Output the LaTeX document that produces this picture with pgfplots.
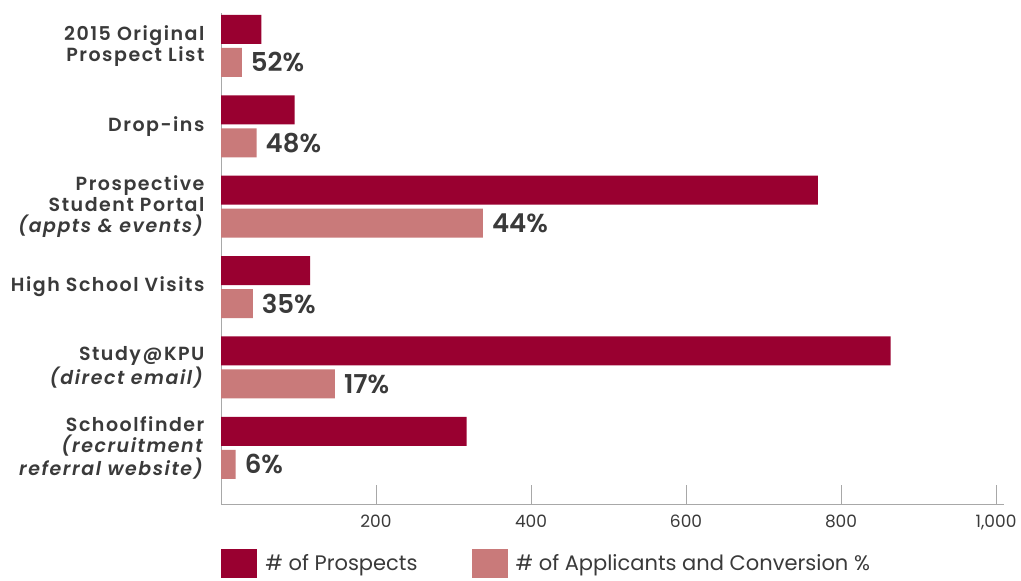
\documentclass[border=0pt]{standalone}
\usepackage{fontspec}
\setmainfont{Poppins}[BoldFont={Poppins SemiBold}, BoldItalicFont={Poppins SemiBold Italic}]
\usepackage{pgfplots}
\pgfplotsset{compat=1.18}
\usepackage{pgfplotstable}

\definecolor{prosp}{HTML}{990030}
\definecolor{appl}{HTML}{C97A7A}
\definecolor{txt}{HTML}{3A3A3A}
\definecolor{axisgray}{HTML}{A8A8A8}

% y: 5 = top group, 0 = bottom group
\pgfplotstableread{
y  pros  appl  pct
5  52    27    52
4  95    46    48
3  770   338   44
2  115   41    35
1  864   147   17
0  317   19    6
}\funnel

\begin{document}
\begin{tikzpicture}
\useasboundingbox (0,0) rectangle (510.5pt,290pt);
\begin{axis}[
    at={(110.5pt,38pt)}, anchor=south west,
    scale only axis,
    width=391.4pt, height=245.5pt,
    xbar, bar width=14.5pt,
    xmin=0, xmax=1010,
    ymin=-0.70, ymax=5.41,
    axis lines=left,
    axis line style={axisgray, thin, -},
    xtick={200,400,600,800,1000},
    xtick align=inside,
    major tick length=9.5pt,
    xtick style={axisgray, thin},
    ytick={0,1,2,3,4,5},
    ytick style={draw=none},
    yticklabels={
        {Schoolfinder\\\textit{(recruitment}\\\textit{referral website)}},
        {Study@KPU\\\textit{(direct email)}},
        {High School Visits},
        {Prospective\\Student Portal\\\textit{(appts \& events)}},
        {Drop-ins},
        {2015 Original\\Prospect List}},
    yticklabel style={align=right, text=txt,
        font=\fontsize{9.5}{10.5}\selectfont\bfseries\addfontfeatures{LetterSpace=8},
        xshift=0pt},
    xticklabel style={text=txt, font=\fontsize{8.5}{10}\selectfont, yshift=-2pt},
    /pgf/number format/.cd, 1000 sep={,}, assume math mode=true,
    /pgfplots/.cd,
    legend columns=2,
    legend style={at={(0,-0.0917)}, anchor=north west, draw=none,
        inner sep=0pt, text=txt,
        font=\fontsize{10.5}{11.5}\selectfont,
        nodes={inner xsep=4pt},
        /tikz/every even column/.append style={column sep=23pt}},
    legend cell align=left,
]
\addplot[fill=prosp, draw=none, bar shift=8.25pt,
    area legend,
    legend image code/.code={\fill[prosp] (0pt,-7.25pt) rectangle (18pt,7.25pt);}]
    table[x=pros, y=y] {\funnel};
\addlegendentry{\# of Prospects}
\addplot[fill=appl, draw=none, bar shift=-8.25pt,
    point meta=explicit,
    nodes near coords={\pgfmathprintnumber{\pgfplotspointmeta}\%},
    nodes near coords align={horizontal},
    every node near coord/.append style={anchor=west, text=txt,
        font=\fontsize{13}{14}\selectfont\bfseries, xshift=1pt},
    legend image code/.code={\fill[appl] (0pt,-7.25pt) rectangle (18pt,7.25pt);}]
    table[x=appl, y=y, meta=pct] {\funnel};
\addlegendentry{\# of Applicants and Conversion \%}
\end{axis}
\end{tikzpicture}
\end{document}
